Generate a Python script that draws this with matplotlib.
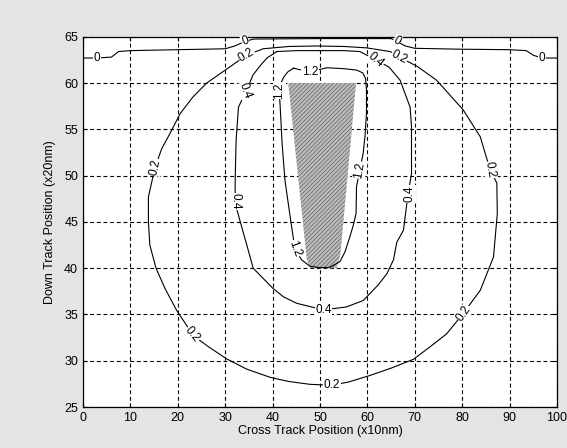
import matplotlib.pyplot as plt
import numpy as np
from matplotlib.patches import Polygon

plt.rcParams['font.family'] = ['Liberation Sans', 'DejaVu Sans']
plt.rcParams['hatch.linewidth'] = 0.6

# --- contour paths (x in x10nm, y in x20nm) ---
c0_x = [0, 3, 6, 7.5, 10, 20, 30, 32, 34.2, 36, 50, 65, 66.2, 68, 70, 80, 90, 93.5, 95, 96.8, 100]
c0_y = [62.7, 62.7, 62.8, 63.4, 63.5, 63.6, 63.7, 64.0, 64.5, 64.75, 64.8, 64.8, 64.5, 64.0, 63.75, 63.65, 63.6, 63.5, 63.0, 62.7, 62.7]

c02_x = [34.5, 38, 43.5, 49.3, 55, 59.8, 64.8, 66.7, 70.5, 74.6, 80.2, 83.8, 85.9, 87.3, 87.4, 86.6, 83.8, 80.2,
         76.7, 73.2, 69.7, 65, 60.5, 56, 52.5, 47.9, 43.5, 39.5, 34.5, 30.3, 26.5, 23.3, 19.8, 17.3, 15.4, 14.1,
         13.8, 13.8, 15.2, 16.6, 18.4, 20.5, 23.2, 26.1, 31, 34.5]
c02_y = [63.0, 63.7, 63.95, 64.0, 63.95, 63.8, 63.4, 62.8, 61.8, 60.3, 57.1, 54.2, 50.6, 49.2, 45.9, 41.2, 37.6, 35.1,
         32.9, 31.5, 30.15, 29.2, 28.4, 27.7, 27.35, 27.45, 27.75, 28.2, 29.1, 30.2, 31.5, 32.7, 35.4, 37.8, 40.0, 42.5,
         45.0, 47.7, 50.9, 52.9, 54.6, 56.7, 58.5, 60.0, 61.75, 63.0]

c04_x = [40.9, 45, 50, 55, 58.4, 61.8, 64.6, 66.9, 69.0, 69.3, 69.3, 68.6, 67.6, 66.2, 65.5, 64.1, 62.3, 59.1,
         55.5, 50.7, 45.1, 42.3, 40.1, 37.8, 35.9, 34.5, 33.4, 32.1, 32.1, 32.3, 32.8, 34.2, 35.9, 37.6, 38.8, 40.9]
c04_y = [63.4, 63.5, 63.5, 63.5, 63.4, 62.5, 61.7, 60.3, 57.4, 55.3, 50.2, 48.1, 44.1, 42.8, 40.9, 39.4, 38.2, 36.5,
         35.8, 35.5, 36.2, 36.9, 37.8, 39.0, 40.0, 42.6, 44.6, 47.0, 49.5, 53.8, 57.4, 58.9, 60.9, 62.0, 62.7, 63.4]

c12_x = [44.4, 47.9, 51.4, 55, 57.7, 59.0, 59.6, 59.8, 59.8, 59.5, 59.1, 58.4, 57.7, 57.6, 57.0, 56.3, 55.3, 54.2,
         52.1, 50, 47.9, 46.1, 44.7, 44.0, 43.3, 42.6, 42.0, 41.6, 41.4, 41.6, 42.3, 43.2, 44.4]
c12_y = [61.6, 61.2, 61.65, 61.55, 61.4, 61.1, 60.5, 59.3, 56.7, 54.3, 52.4, 50.6, 48.8, 45.9, 44.6, 43.4, 41.8, 40.7,
         40.1, 40.05, 40.2, 40.9, 42.1, 44.5, 47.0, 49.5, 53.5, 57.4, 59.2, 59.8, 60.6, 61.2, 61.6]

# shaded write-head footprint
head_x = [43.3, 57.6, 54.3, 53.5, 47.9, 47.2]
head_y = [60.0, 60.0, 41.5, 40.0, 40.0, 41.0]

# inline contour labels: text, x, y, angle
labels = [
    ("0", 3, 62.7, 0), ("0", 34.2, 64.5, 20), ("0", 66.2, 64.5, -30), ("0", 96.8, 62.7, 0),
    ("0.2", 34.5, 63.0, 30), ("0.2", 66.7, 62.8, -28), ("0.2", 85.9, 50.6, -80), ("0.2", 80.4, 35.1, 55),
    ("0.2", 52.5, 27.35, 0), ("0.2", 23.0, 32.8, -50), ("0.2", 15.3, 50.9, 78),
    ("0.4", 34.2, 59.2, -70), ("0.4", 32.1, 47.2, -90), ("0.4", 50.7, 35.5, 0),
    ("0.4", 68.8, 48.0, 90), ("0.4", 61.8, 62.5, -40),
    ("1.2", 47.9, 61.2, 0), ("1.2", 41.4, 59.2, 90), ("1.2", 44.7, 42.1, -70), ("1.2", 58.4, 50.6, 80),
]

fig = plt.figure(figsize=(5.67, 4.48), dpi=100, facecolor='#e4e4e4')
ax = fig.add_axes([0.1464, 0.0915, 0.836, 0.8265])
ax.set_facecolor('white')

ax.add_patch(Polygon(np.column_stack([head_x, head_y]), closed=True, facecolor='#bdbdbd',
                     edgecolor='#6e6e6e', hatch='////////', linewidth=0, zorder=2))

for xs, ys in [(c0_x, c0_y), (c02_x, c02_y), (c04_x, c04_y), (c12_x, c12_y)]:
    ax.plot(xs, ys, color='black', lw=0.8, zorder=3, solid_joinstyle='round')

for txt, lx, ly, rot in labels:
    ax.text(lx, ly, txt, fontsize=8.5, rotation=rot, ha='center', va='center', rotation_mode='anchor',
            zorder=4, bbox=dict(facecolor='white', edgecolor='none', pad=0.3))

ax.set_xlim(0, 100)
ax.set_ylim(25, 65)
ax.set_xticks(np.arange(0, 101, 10))
ax.set_yticks(np.arange(25, 66, 5))
ax.grid(True, color='black', linestyle=(0, (3.5, 2.5)), linewidth=0.8)
ax.tick_params(direction='in', labelsize=9, length=3, top=True, right=True)
for s in ax.spines.values():
    s.set_linewidth(0.9)

ax.set_xlabel('Cross Track Position (x10nm)', fontsize=9, labelpad=1)
ax.set_ylabel('Down Track Position (x20nm)', fontsize=9, labelpad=6)

fig.savefig('out.png', dpi=100, facecolor=fig.get_facecolor())
